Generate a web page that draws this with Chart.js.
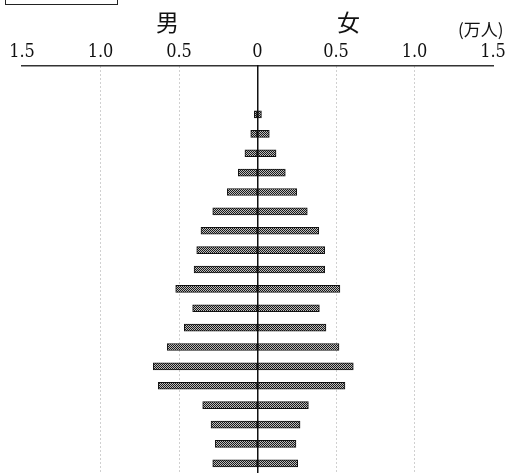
<!DOCTYPE html>
<html>
<head>
<meta charset="utf-8">
<script src="https://cdn.jsdelivr.net/npm/chart.js@4/dist/chart.umd.min.js"></script>
<style>
  body { margin: 0; background: #fff; }
  #wrap { position: relative; width: 512px; height: 473px; overflow: hidden; }
  .lbl { position: absolute; font-family: "Noto Sans CJK JP", sans-serif; color: #111; line-height: 1; white-space: nowrap; }
  #box { position: absolute; left: 5px; top: -3px; width: 111px; height: 7px; border: 1.5px solid #222; border-top: none; }
</style>
</head>
<body>
<div id="wrap">
  <div id="box"></div>
  <div class="lbl" style="left:156px; top:10px; font-size:23px;">男</div>
  <div class="lbl" style="left:337px; top:10px; font-size:23px;">女</div>
  <div class="lbl" style="left:458px; top:20px; font-size:17px;">(万人)</div>
  <canvas id="chartPiramide" width="512" height="473"></canvas>
</div>
<script>
// grupos de edad, de arriba hacia abajo
const grupos = ['90+', '85-89', '80-84', '75-79', '70-74', '65-69', '60-64', '55-59', '50-54',
  '45-49', '40-44', '35-39', '30-34', '25-29', '20-24', '15-19', '10-14', '5-9', '0-4']
// valores en 万人
const hombres = [0.02, 0.043, 0.08, 0.122, 0.192, 0.285, 0.36, 0.387, 0.404,
  0.521, 0.413, 0.466, 0.575, 0.664, 0.632, 0.349, 0.296, 0.269, 0.285]
const mujeres = [0.025, 0.075, 0.118, 0.177, 0.25, 0.317, 0.39, 0.428, 0.428,
  0.525, 0.394, 0.436, 0.519, 0.61, 0.557, 0.324, 0.271, 0.245, 0.256]
const ticksX = [-1.5, -1.0, -0.5, 0, 0.5, 1.0, 1.5]

// dos filas vacias arriba, como en el original
const filasVacias = ['', '']

function getTrama(ctx) {
    const c = document.createElement('canvas')
    c.width = 2
    c.height = 2
    const t = c.getContext('2d')
    t.fillStyle = '#bdbdbd'
    t.fillRect(0, 0, 2, 2)
    t.fillStyle = '#1a1a1a'
    t.fillRect(0, 0, 1, 1)
    t.fillRect(1, 1, 1, 1)
    return ctx.createPattern(c, 'repeat')
}

function piramideChart(ctx) {
    const trama = getTrama(ctx)
    const labels = filasVacias.concat(grupos)
    const datosH = filasVacias.map(() => null).concat(hombres.map(v => -v))
    const datosM = filasVacias.map(() => null).concat(mujeres)

    const chart = new Chart(ctx, {
        type: 'bar',
        data: {
            labels: labels,
            datasets: [
                { label: '男', data: datosH, backgroundColor: trama, borderColor: '#111', borderWidth: 1, borderSkipped: false, barThickness: 7 },
                { label: '女', data: datosM, backgroundColor: trama, borderColor: '#111', borderWidth: 1, borderSkipped: false, barThickness: 7 }
            ]
        },
        options: {
            indexAxis: 'y',
            responsive: false,
            animation: false,
            layout: { padding: { left: 22, right: 19, top: 0, bottom: 0 } },
            plugins: { legend: { display: false }, tooltip: { enabled: false } },
            scales: {
                x: {
                    position: 'top',
                    stacked: true,
                    min: -1.5,
                    max: 1.5,
                    afterBuildTicks: axis => { axis.ticks = ticksX.map(v => ({ value: v })) },
                    afterFit: axis => { axis.height = 66 },
                    ticks: {
                        autoSkip: false,
                        maxRotation: 0,
                        padding: 3,
                        color: '#111',
                        font: { family: 'DejaVu Serif Condensed', size: 18 },
                        callback: v => v === 0 ? '0' : Math.abs(v).toFixed(1)
                    },
                    grid: {
                        drawTicks: false,
                        lineWidth: 1,
                        color: c => (c.tick && (c.tick.value === 0 || Math.abs(c.tick.value) === 1.5)) ? 'rgba(0,0,0,0)' : '#a0a0a0'
                    },
                    border: { display: true, color: '#333', width: 1.5, dash: [1, 3] }
                },
                y: {
                    position: { x: 0 },
                    stacked: true,
                    ticks: { display: false },
                    grid: { display: false },
                    border: { display: true, color: '#111', width: 1.5 }
                }
            }
        }
    })
}

piramideChart(document.querySelector('#chartPiramide').getContext('2d'))
</script>
</body>
</html>
